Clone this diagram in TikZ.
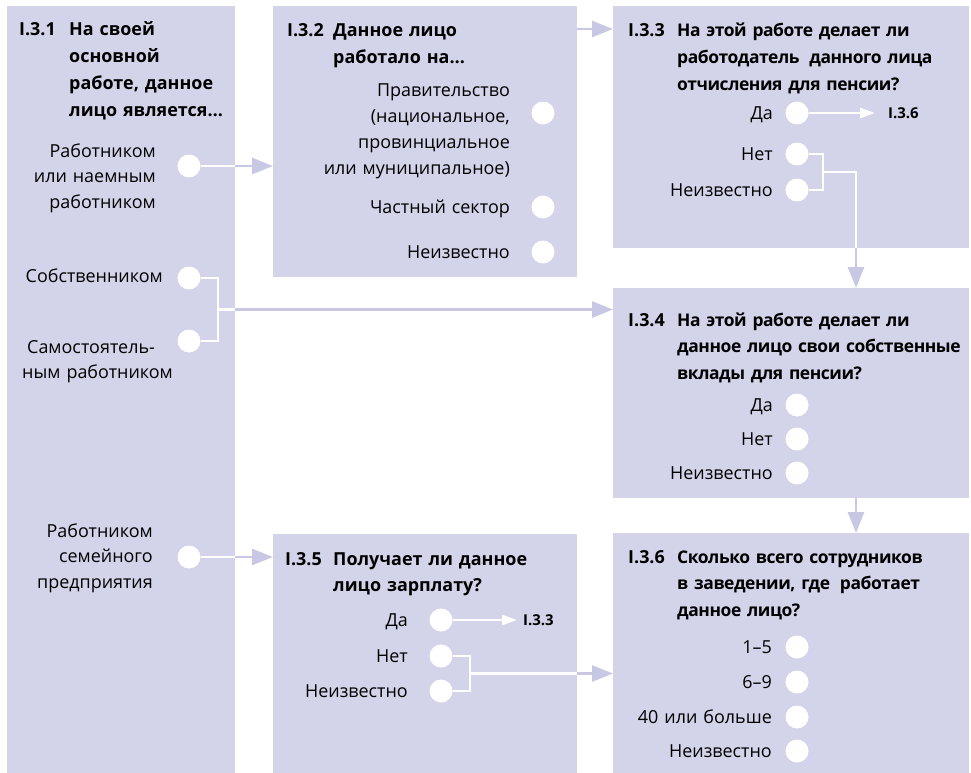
\documentclass[tikz,border=0pt]{standalone}
\usepackage{fontspec}
\setmainfont{Open Sans}
\usetikzlibrary{positioning,arrows.meta,calc}
\definecolor{boxc}{RGB}{211,211,233}
\definecolor{linec}{RGB}{200,200,228}

\begin{document}
\begin{tikzpicture}
    [x=1bp,y=-1bp,
     box/.style={anchor=north west,inner sep=0,outer sep=0,fill=boxc},
     num/.style={anchor=base west,inner sep=0,
                 font=\fontsize{18}{27}\selectfont\bfseries},
     qtext/.style={anchor=base west,inner sep=0,text width=#1,align=left,
                   font=\fontsize{18}{27}\selectfont\bfseries},
     qtext/.default=320bp,
     wide/.style={font=\fontsize{17.5}{27}\selectfont\bfseries
                       \addfontfeature{LetterSpace=-2.5}},
     ans/.style={anchor=base east,inner sep=0,text width=#1,align=right,
                 font=\fontsize{18}{26}\selectfont},
     ans/.default=200bp,
     dot/.style={circle,fill=white,inner sep=0,minimum size=23bp},
     goto/.style={anchor=west,inner sep=0,font=\fontsize{15}{16}\selectfont\bfseries},
     wline/.style={draw=white,line width=2.6bp},
     warrow/.style={wline,-{Triangle[length=15bp,width=10bp]}},
     lline/.style={draw=linec,line width=2.6bp},
     larrow/.style={lline,-{Triangle[length=21bp,width=16bp]}}]
    \useasboundingbox (0,0) rectangle (971,773);

    % question boxes
    \node[box,minimum width=228bp,minimum height=767bp] (b1) at (7,6) {};
    \node[box,minimum width=304bp,minimum height=271bp] (b2) at (273,6) {};
    \node[box,minimum width=356bp,minimum height=242bp] (b3) at (613,6) {};
    \node[box,minimum width=356bp,minimum height=210bp] (b4) at (613,288) {};
    \node[box,minimum width=304bp,minimum height=239bp] (b5) at (273,534) {};
    \node[box,minimum width=356bp,minimum height=240bp] (b6) at (613,533) {};

    % titles
    \node[num] (n1) at (19,36) {I.3.1};
    \node[qtext=160bp] (q1) at (69,36)
        {На своей\\основной\\работе, данное\\лицо является…};
    \node[num] (n2) at (287,37) {I.3.2};
    \node[qtext] (q2) at (333,37) {Данное лицо\\работало на…};
    \node[num] (n3) at (628,37) {I.3.3};
    \node[qtext,wide] (q3) at (677,37)
        {На этой работе делает ли\\работодатель\hspace{4bp} данного лица\\отчисления для пенсии?};
    \node[num] (n4) at (628,326) {I.3.4};
    \node[qtext,wide] (q4) at (677,326)
        {На этой работе делает ли\\данное лицо свои собственные\\вклады для пенсии?};
    \node[num] (n5) at (285,565) {I.3.5};
    \node[qtext] (q5) at (333,565) {Получает ли данное\\лицо зарплату?};
    \node[num] (n6) at (628,563) {I.3.6};
    \node[qtext,wide] (q6) at (677,563)
        {Сколько всего сотрудников\\в заведении, где\hspace{4bp} работает\\данное лицо?};

    % I.3.1 answers
    \node[ans] (a11) at (156,157) {Работником\\или наемным\\работником};
    \node[dot] (c11) at (189,166) {};
    \node[ans] (a12) at (163,282) {Собственником};
    \node[dot] (c12) at (189,278) {};
    \node[anchor=base west,inner sep=0,text width=200bp,align=left,
          font=\fontsize{18}{26}\selectfont] (a13) at (22,353)
        {\hspace*{5bp}Самостоятель-\\ным работником};
    \node[dot] (c13) at (189,341) {};
    \node[ans] (a14) at (153,537) {Работником\\семейного\\предприятия};
    \node[dot] (c14) at (189,557) {};

    % I.3.2 answers
    \node[ans] (a21) at (510,97)
        {Правительство\\(национальное,\\провинциальное\\или муниципальное)};
    \node[dot] (c21) at (543,113) {};
    \node[ans] (a22) at (510,213) {Частный сектор};
    \node[dot] (c22) at (543,207) {};
    \node[ans] (a23) at (510,258) {Неизвестно};
    \node[dot] (c23) at (543,252) {};

    % I.3.3 answers
    \node[ans] (a31) at (773,119) {Да};
    \node[dot] (c31) at (797,113) {};
    \node[ans] (a32) at (773,160) {Нет};
    \node[dot] (c32) at (797,154) {};
    \node[ans] (a33) at (773,196) {Неизвестно};
    \node[dot] (c33) at (797,190) {};
    \node[goto] (g36) at (888,113) {I.3.6};

    % I.3.4 answers
    \node[ans] (a41) at (773,411) {Да};
    \node[dot] (c41) at (797,405) {};
    \node[ans] (a42) at (773,445) {Нет};
    \node[dot] (c42) at (797,439) {};
    \node[ans] (a43) at (773,479) {Неизвестно};
    \node[dot] (c43) at (797,473) {};

    % I.3.5 answers
    \node[ans] (a51) at (408,626) {Да};
    \node[dot] (c51) at (441,620) {};
    \node[ans] (a52) at (408,662) {Нет};
    \node[dot] (c52) at (441,656) {};
    \node[ans] (a53) at (408,697) {Неизвестно};
    \node[dot] (c53) at (441,691) {};
    \node[goto] (g53) at (523,620) {I.3.3};

    % I.3.6 answers
    \node[ans] (a61) at (772,653) {1–5};
    \node[dot] (c61) at (797,647) {};
    \node[ans] (a62) at (772,688) {6–9};
    \node[dot] (c62) at (797,682) {};
    \node[ans] (a63) at (772,723) {40 или больше};
    \node[dot] (c63) at (797,717) {};
    \node[ans] (a64) at (772,757) {Неизвестно};
    \node[dot] (c64) at (797,751) {};

    % connectors
    \coordinate (j1) at ($(c12)!.5!(c13)+(29,0)$);
    \coordinate (j3) at ($(c32)!.5!(c33)+(26,0)$);
    \coordinate (k3) at ($(j3)+(33,0)$);
    \coordinate (j5) at ($(c52)!.5!(c53)+(29,0)$);
    \coordinate (k2) at ([yshift=-23bp]b2.north east);

    \draw[wline] (c11) -- (b1.east |- c11);
    \draw[larrow] (b1.east |- c11) -- (b2.west |- c11);
    \draw[wline] (c12) -| (j1) |- (c13);
    \draw[wline] (j1) -- (b1.east |- j1);
    \draw[larrow] (b1.east |- j1) -- (b4.west |- j1);
    \draw[wline] (c14) -- (b1.east |- c14);
    \draw[larrow] (b1.east |- c14) -- (b5.west |- c14);
    \draw[larrow] (k2) -- (b3.west |- k2);
    \draw[warrow] (c31) -- ([xshift=-13bp]g36.west);
    \draw[wline] (c32) -| (j3) |- (c33);
    \draw[wline] (j3) -- (k3) -- (k3 |- b3.south);
    \draw[larrow] (k3 |- b3.south) -- (k3 |- b4.north);
    \draw[larrow] (k3 |- b4.south) -- (k3 |- b6.north);
    \draw[warrow] (c51) -- ([xshift=-6bp]g53.west);
    \draw[wline] (c52) -| (j5) |- (c53);
    \draw[wline] (j5) -- (b5.east |- j5);
    \draw[larrow] (b5.east |- j5) -- (b6.west |- j5);
\end{tikzpicture}
\end{document}
